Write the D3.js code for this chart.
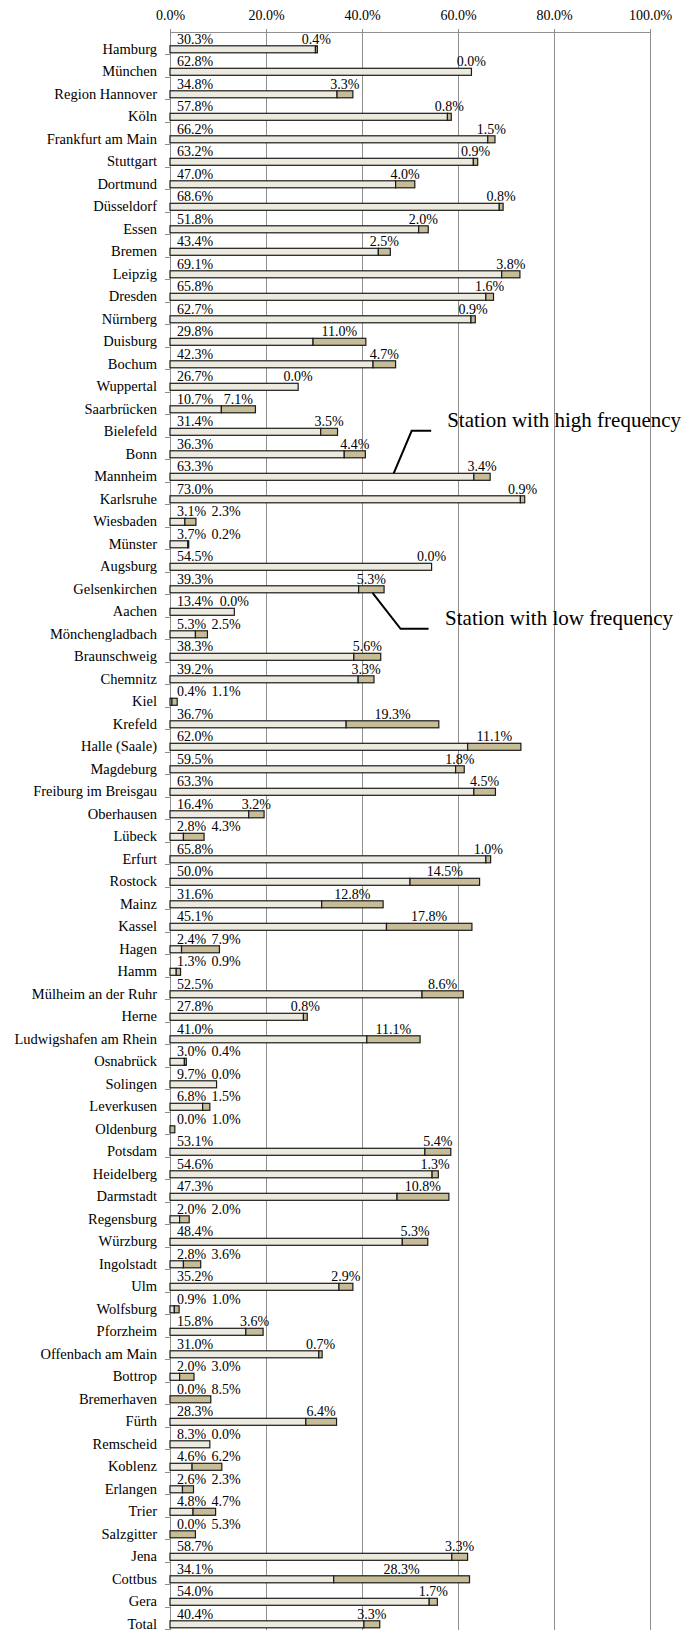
<!DOCTYPE html>
<html>
<head>
<meta charset="utf-8">
<script src="https://d3js.org/d3.v7.min.js"></script>
<style>
    body {
        margin: 0;
        background: #fff;
    }
    svg text {
        font-family: "Liberation Serif", "Times New Roman", serif;
        fill: #000;
    }
    .grid line {
        stroke: #8f8f8f;
        stroke-width: 1px;
        shape-rendering: crispEdges;
    }
    .axis--x path,
    .axis--x line {
        stroke: #8f8f8f;
        shape-rendering: crispEdges;
    }
    .axis--x text {
        font-size: 14px;
    }
    .axis--y path {
        stroke: #8f8f8f;
        shape-rendering: crispEdges;
    }
    .axis--y text {
        font-size: 14.5px;
    }
    .ytick {
        stroke: #8f8f8f;
        shape-rendering: crispEdges;
    }
    .seg {
        stroke: #1a1a1a;
        stroke-width: 1.2px;
    }
    .vlabel {
        font-size: 14px;
    }
    .note text {
        font-size: 21px;
    }
    .note path {
        fill: none;
        stroke: #000;
        stroke-width: 2px;
    }
</style>
</head>
<body>
<div id="chart"></div>
<script>
    // cities in chart order (top to bottom)
    var cities = ["Hamburg", "München", "Region Hannover", "Köln", "Frankfurt am Main", "Stuttgart",
        "Dortmund", "Düsseldorf", "Essen", "Bremen", "Leipzig", "Dresden", "Nürnberg", "Duisburg",
        "Bochum", "Wuppertal", "Saarbrücken", "Bielefeld", "Bonn", "Mannheim", "Karlsruhe",
        "Wiesbaden", "Münster", "Augsburg", "Gelsenkirchen", "Aachen", "Mönchengladbach",
        "Braunschweig", "Chemnitz", "Kiel", "Krefeld", "Halle (Saale)", "Magdeburg",
        "Freiburg im Breisgau", "Oberhausen", "Lübeck", "Erfurt", "Rostock", "Mainz", "Kassel",
        "Hagen", "Hamm", "Mülheim an der Ruhr", "Herne", "Ludwigshafen am Rhein", "Osnabrück",
        "Solingen", "Leverkusen", "Oldenburg", "Potsdam", "Heidelberg", "Darmstadt", "Regensburg",
        "Würzburg", "Ingolstadt", "Ulm", "Wolfsburg", "Pforzheim", "Offenbach am Main", "Bottrop",
        "Bremerhaven", "Fürth", "Remscheid", "Koblenz", "Erlangen", "Trier", "Salzgitter", "Jena",
        "Cottbus", "Gera", "Total"];

    // share (%) of stations with high frequency
    var highFreq = [30.3, 62.8, 34.8, 57.8, 66.2, 63.2, 47.0, 68.6, 51.8, 43.4, 69.1, 65.8, 62.7, 29.8,
        42.3, 26.7, 10.7, 31.4, 36.3, 63.3, 73.0, 3.1, 3.7, 54.5, 39.3, 13.4, 5.3, 38.3, 39.2, 0.4,
        36.7, 62.0, 59.5, 63.3, 16.4, 2.8, 65.8, 50.0, 31.6, 45.1, 2.4, 1.3, 52.5, 27.8, 41.0, 3.0,
        9.7, 6.8, 0.0, 53.1, 54.6, 47.3, 2.0, 48.4, 2.8, 35.2, 0.9, 15.8, 31.0, 2.0, 0.0, 28.3, 8.3,
        4.6, 2.6, 4.8, 0.0, 58.7, 34.1, 54.0, 40.4];

    // share (%) of stations with low frequency
    var lowFreq = [0.4, 0.0, 3.3, 0.8, 1.5, 0.9, 4.0, 0.8, 2.0, 2.5, 3.8, 1.6, 0.9, 11.0,
        4.7, 0.0, 7.1, 3.5, 4.4, 3.4, 0.9, 2.3, 0.2, 0.0, 5.3, 0.0, 2.5, 5.6, 3.3, 1.1,
        19.3, 11.1, 1.8, 4.5, 3.2, 4.3, 1.0, 14.5, 12.8, 17.8, 7.9, 0.9, 8.6, 0.8, 11.1, 0.4,
        0.0, 1.5, 1.0, 5.4, 1.3, 10.8, 2.0, 5.3, 3.6, 2.9, 1.0, 3.6, 0.7, 3.0, 8.5, 6.4, 0.0,
        6.2, 2.3, 4.7, 5.3, 3.3, 28.3, 1.7, 3.3];

    var xTicks = [0, 20, 40, 60, 80, 100];

    var width = 686, height = 1632;
    var plotTop = 32.3, rowH = 22.5;
    var barOffset = 13.5, barH = 7;

    var x = d3.scaleLinear().domain([0, 100]).range([170, 650]);
    var y = d3.scaleBand().domain(cities).range([plotTop, plotTop + rowH * cities.length]);
    var fmt = function(v) { return v.toFixed(1) + "%"; };

    var rows = cities.map(function(c, i) {
        return {city: c, high: highFreq[i], low: lowFreq[i]};
    });

    var svg = d3.select("#chart").append("svg")
        .attr("width", width)
        .attr("height", height);

    // vertical gridlines
    svg.append("g")
        .attr("class", "grid")
        .selectAll("line")
        .data(xTicks.slice(1))
        .enter().append("line")
        .attr("x1", function(d) { return Math.round(x(d)) + 0.5; })
        .attr("x2", function(d) { return Math.round(x(d)) + 0.5; })
        .attr("y1", plotTop)
        .attr("y2", y.range()[1]);

    // top axis
    svg.append("g")
        .attr("class", "axis axis--x")
        .attr("transform", "translate(0," + plotTop + ")")
        .call(d3.axisTop(x).tickValues(xTicks).tickFormat(fmt).tickSizeInner(3).tickSizeOuter(3).tickPadding(9));

    // left axis, labels lined up with the bars
    var yAxis = svg.append("g")
        .attr("class", "axis axis--y")
        .attr("transform", "translate(" + x(0) + ",0)")
        .call(d3.axisLeft(y).tickSizeInner(0).tickSizeOuter(0).tickPadding(13));
    yAxis.selectAll(".tick text")
        .attr("y", barOffset + barH / 2 - y.bandwidth() / 2);

    // category tick marks between rows
    svg.append("g")
        .selectAll("line")
        .data(cities)
        .enter().append("line")
        .attr("class", "ytick")
        .attr("x1", x(0) - 5)
        .attr("x2", x(0))
        .attr("y1", function(d) { return y(d) + y.bandwidth(); })
        .attr("y2", function(d) { return y(d) + y.bandwidth(); });

    var row = svg.append("g")
        .selectAll("g")
        .data(rows)
        .enter().append("g")
        .attr("transform", function(d) { return "translate(0," + y(d.city) + ")"; });

    row.append("rect")
        .attr("class", "seg")
        .attr("x", x(0))
        .attr("y", barOffset)
        .attr("width", function(d) { return x(d.high) - x(0); })
        .attr("height", barH)
        .style("fill", "#ECE9DF");

    row.append("rect")
        .attr("class", "seg")
        .attr("x", function(d) { return x(d.high); })
        .attr("y", barOffset)
        .attr("width", function(d) { return x(d.high + d.low) - x(d.high); })
        .attr("height", barH)
        .style("fill", "#C6BC98");

    row.append("text")
        .attr("class", "vlabel")
        .attr("x", x(0) + 7)
        .attr("y", barOffset - 2)
        .text(function(d) { return fmt(d.high); });

    row.append("text")
        .attr("class", "vlabel")
        .attr("text-anchor", "middle")
        .attr("x", function(d) { return Math.max(x(d.high + d.low / 2), x(0) + 56); })
        .attr("y", barOffset - 2)
        .text(function(d) { return fmt(d.low); });

    // callouts
    var hi = rows[cities.indexOf("Mannheim")];
    var hx = x(46.6), hy = y(hi.city) + barOffset;
    var hiNote = svg.append("g").attr("class", "note");
    hiNote.append("path")
        .attr("d", "M" + hx + "," + hy + "L" + (hx + 18) + "," + (hy - 42.5) + "H" + (hx + 37.5));
    hiNote.append("text")
        .attr("x", hx + 53.5)
        .attr("y", hy - 46.3)
        .text("Station with high frequency");

    var lo = rows[cities.indexOf("Gelsenkirchen")];
    var lx = x(42.2), ly = y(lo.city) + barOffset + barH;
    var loNote = svg.append("g").attr("class", "note");
    loNote.append("path")
        .attr("d", "M" + lx + "," + ly + "L" + (lx + 28) + "," + (ly + 36) + "H" + (lx + 56));
    loNote.append("text")
        .attr("x", lx + 72.5)
        .attr("y", ly + 32)
        .text("Station with low frequency");
</script>
</body>
</html>
